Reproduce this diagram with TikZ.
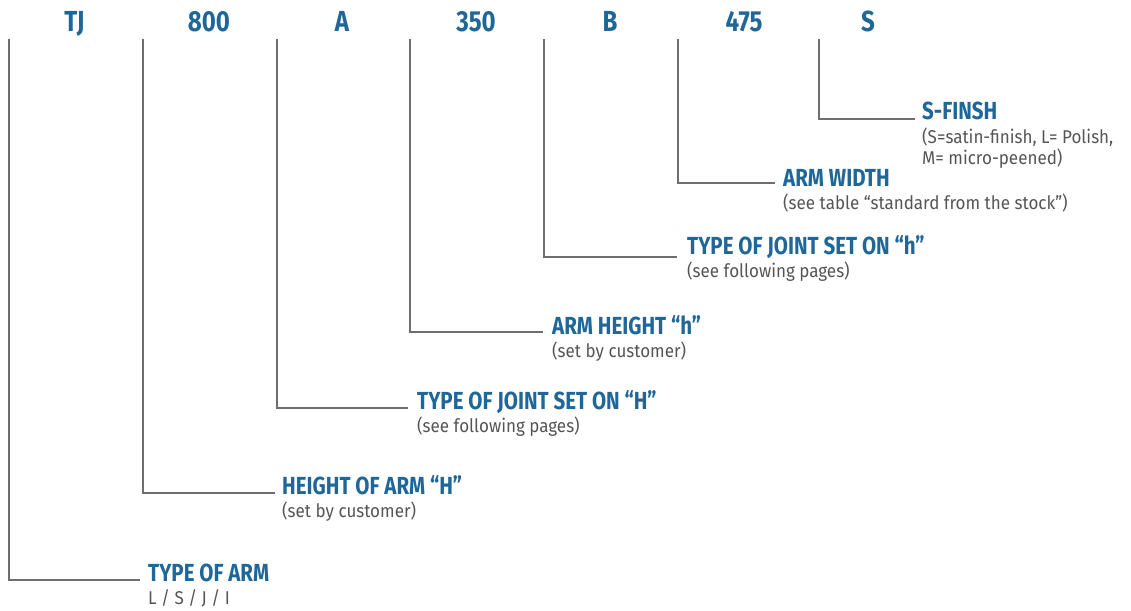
\documentclass[tikz,border=0pt]{standalone}
\usepackage{fontspec}
\newfontfamily\headfont[FakeStretch=0.83]{Fira Sans}
\newfontfamily\subfont[FakeStretch=0.92]{Fira Sans}
\definecolor{codeblue}{HTML}{1F6699}
\definecolor{leadgray}{HTML}{6E6E6E}
\definecolor{subgray}{HTML}{555555}
\tikzset{
  code/.style={anchor=base, inner sep=0pt, text=codeblue, font=\headfont\bfseries\fontsize{29}{29}\selectfont},
  title/.style={anchor=base west, inner sep=0pt, text=codeblue, font=\headfont\bfseries\fontsize{24.7}{25}\selectfont},
  sub/.style={anchor=base west, inner sep=0pt, text=subgray, align=left, font=\subfont\fontsize{18.5}{21}\selectfont},
  lead/.style={draw=leadgray, line width=1.2pt}
}
\begin{document}
\begin{tikzpicture}[x=1pt,y=-1pt]
\useasboundingbox (0,0) rectangle (1131,610);
% top code letters
\node[code] (k1) at (74.5,32) {TJ};
\node[code] (k2) at (209,32) {800};
\node[code] (k3) at (342,32) {A};
\node[code] (k4) at (476,32) {350};
\node[code] (k5) at (610,32) {B};
\node[code] (k6) at (744,32) {475};
\node[code] (k7) at (868,32) {S};
% titles and explanations
\node[title] (t1) at (148,581) {TYPE OF ARM};
\node[sub]   (s1) at (148,604) {L / S / J / I};
\node[title] (t2) at (282,494) {HEIGHT OF ARM “H”};
\node[sub]   (s2) at (282,517) {(set by customer)};
\node[title] (t3) at (417,409) {TYPE OF JOINT SET ON “H”};
\node[sub]   (s3) at (417,432) {(see following pages)};
\node[title] (t4) at (552,334) {ARM HEIGHT “h”};
\node[sub]   (s4) at (552,357) {(set by customer)};
\node[title] (t5) at (687,254) {TYPE OF JOINT SET ON “h”};
\node[sub]   (s5) at (687,277) {(see following pages)};
\node[title] (t6) at (783,186) {ARM WIDTH};
\node[sub]   (s6) at (783,209) {(see table “standard from the stock”)};
\node[title] (t7) at (922,119) {S-FINSH};
\node[sub]   (s7) at (922,164) {(S=satin-finish, L= Polish,\\M= micro-peened)};
% leader start and end points
\coordinate (a1) at (9,39);   \coordinate (b1) at (140,580);
\coordinate (a2) at (143,39); \coordinate (b2) at (275,493);
\coordinate (a3) at (277,39); \coordinate (b3) at (408,408);
\coordinate (a4) at (410,39); \coordinate (b4) at (543,332);
\coordinate (a5) at (544,39); \coordinate (b5) at (677,257);
\coordinate (a6) at (678,39); \coordinate (b6) at (775,183);
\coordinate (a7) at (819,39); \coordinate (b7) at (915,119);
\foreach \i in {1,...,7} {\draw[lead] (a\i) |- (b\i);}
\end{tikzpicture}
\end{document}
